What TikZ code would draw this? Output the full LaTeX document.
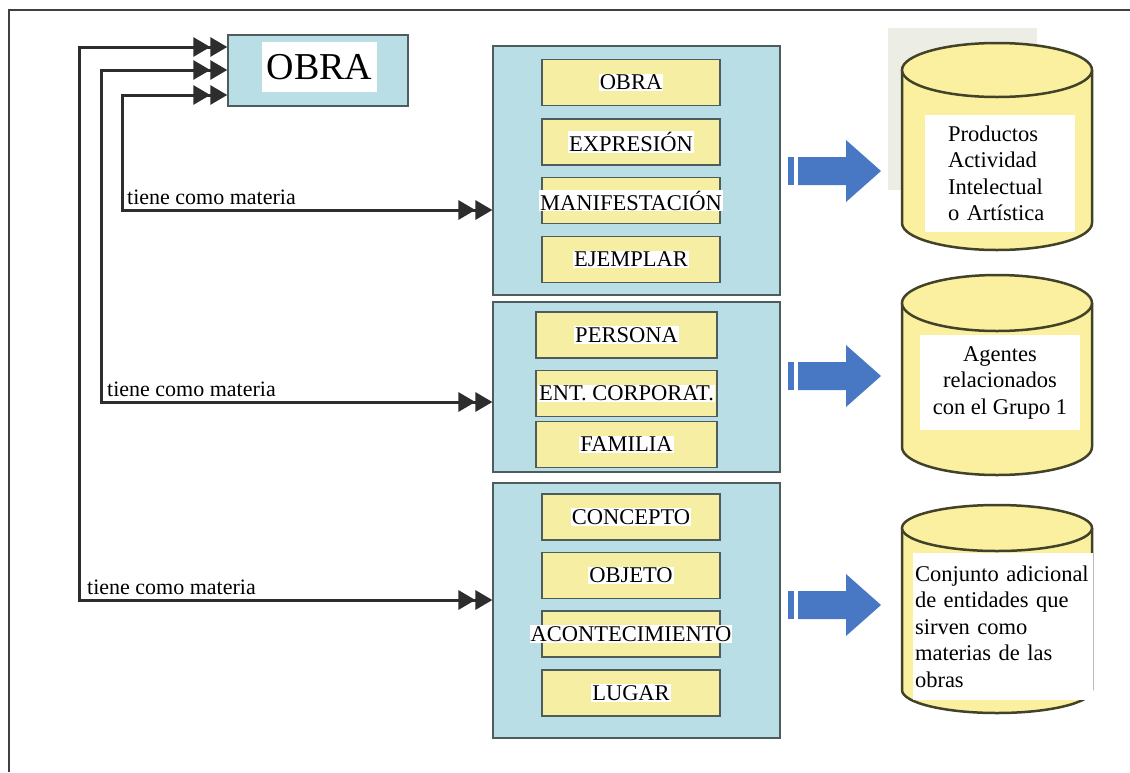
\documentclass[tikz,border=0pt]{standalone}
\usepackage{fontspec}
\setmainfont{Liberation Serif}
\usetikzlibrary{arrows.meta}
\definecolor{groupblue}{RGB}{186,222,229}
\definecolor{itemyellow}{RGB}{246,238,162}
\definecolor{cylyellow}{RGB}{250,240,160}
\definecolor{edge}{RGB}{78,92,92}
\definecolor{wire}{RGB}{45,45,45}
\definecolor{arrowblue}{RGB}{72,120,196}
\definecolor{paleshade}{RGB}{236,238,230}
\newcommand\patch[1]{\makebox[0pt]{\setlength{\fboxsep}{1pt}\colorbox{white}{#1}}}
\begin{document}
\begin{tikzpicture}[x=1pt, y=-1pt,
	group/.style={draw=edge, fill=groupblue, line width=1.2pt, minimum width=287pt},
	item/.style={draw=edge, fill=itemyellow, line width=1.6pt, minimum width=178pt, minimum height=46pt, inner sep=0pt, font=\fontsize{22.5}{25}\selectfont},
	link/.style={{Triangle[length=17pt,width=19pt]Triangle[length=17pt,width=19pt]}-{Triangle[length=17pt,width=19pt]Triangle[length=17pt,width=19pt]}, line width=3pt, draw=wire},
	note/.style={anchor=south west, inner sep=1pt, font=\fontsize{22}{24}\selectfont},
	tank/.style={fill=white, inner sep=0pt, font=\fontsize{22.5}{26.5}\selectfont}]
	\useasboundingbox (0,0) rectangle (1130,772);
	\draw[black!75, line width=1.5pt] (9,772) -- (9,10) -- (1130,10);
	% top box
	\node[draw=edge, fill=groupblue, line width=1.4pt, minimum width=180pt, minimum height=71pt] (obra) at (318,70.5) {};
	\node[fill=white, minimum width=115pt, minimum height=50pt, font=\fontsize{38}{40}\selectfont] at (319.5,67) {OBRA};
	% groups
	\node[group, minimum height=249pt] (g1) at (636.5,170.5) {};
	\node[group, minimum height=170pt] (g2) at (636.5,387) {};
	\node[group, minimum height=255pt] (g3) at (636.5,610.5) {};
	\foreach \name/\y/\txt in {obra1/82.5/OBRA, expr/142/EXPRESI\'ON, mani/200.5/MANIFESTACI\'ON, ejem/259.5/EJEMPLAR,
		conc/517/CONCEPTO, obje/575.5/OBJETO, acon/634/ACONTECIMIENTO, luga/693/LUGAR}
		\node[item] (\name) at (631,\y) {\patch{\txt}};
	\foreach \name/\y/\txt in {pers/335/PERSONA, ent/393.5/ENT. CORPORAT., fami/444.5/FAMILIA}
		\node[item, minimum width=181pt] (\name) at (626.5,\y) {\patch{\txt}};
	% links back to OBRA
	\draw[link] (obra.west |- 0,95) -| (122,210) -- (g1.west |- 0,210);
	\draw[link] (obra.west |- 0,70) -| (101,402) -- (g2.west |- 0,402);
	\draw[link] (obra.west |- 0,47) -| (79,600) -- (g3.west |- 0,600);
	\node[note] (m1) at (126,206) {tiene como materia};
	\node[note] (m2) at (106,398) {tiene como materia};
	\node[note] (m3) at (86,596) {tiene como materia};
	% blue arrows
	\foreach \y in {171,376,605} {
		\fill[arrowblue] (788,\y-14) rectangle (794,\y+14);
		\fill[arrowblue] (798,\y-14) -- (846,\y-14) -- (846,\y-31) -- (881,\y) -- (846,\y+31) -- (846,\y+14) -- (798,\y+14) -- cycle;
	}
	% cylinders
	\fill[paleshade] (888,28) rectangle (1037,190);
	\foreach \t/\b/\r in {70/223/27, 303/447/28, 528/690/23} {
		\fill[cylyellow] (902,\t) rectangle (1092,\b);
		\fill[cylyellow] (997,\b) ellipse [x radius=95, y radius=\r];
		\draw[wire!90!yellow, line width=2.5pt] (902,\t) -- (902,\b) arc[start angle=180, end angle=0, x radius=95, y radius=\r] -- (1092,\t);
		\draw[wire!90!yellow, fill=cylyellow, line width=2.5pt] (997,\t) ellipse [x radius=95, y radius=\r];
	}
	\node[tank, minimum width=150pt, minimum height=117pt, text width=104pt, align=left] (c1) at (1000,173.5) {Productos\\Actividad\\Intelectual\\o Artística};
	\node[tank, minimum width=160pt, minimum height=95pt, align=center] (c2) at (1000,382.5) {Agentes\\relacionados\\con el Grupo 1};
	\node[tank, minimum width=180pt, minimum height=147pt, text width=176pt, align=left] (c3) at (1003,626.5) {Conjunto adicional\\de entidades que\\sirven como\\materias de las\\obras};
\end{tikzpicture}
\end{document}
